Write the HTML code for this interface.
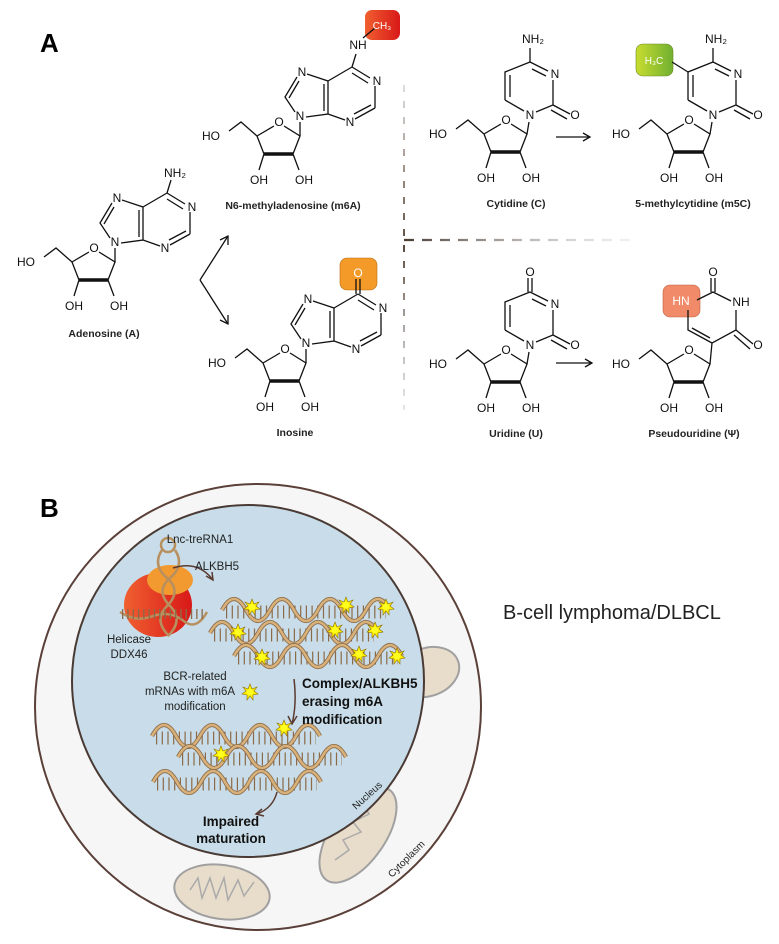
<!DOCTYPE html>
<html><head><meta charset="utf-8"><style>
html,body{margin:0;padding:0;background:#fff}
svg{display:block}
text{font-family:"Liberation Sans",sans-serif}
.a{font-size:12px;fill:#111;text-anchor:middle}
.lb{font-size:10.5px;font-weight:bold;fill:#222;text-anchor:middle}
.b{stroke:#111;stroke-width:1.3;fill:none}
.bt{stroke:#111;stroke-width:3.5;fill:none}
.t{font-size:11.5px;fill:#222;text-anchor:middle}
.tb{font-size:13.5px;font-weight:bold;fill:#111}
</style></head><body>
<svg width="779" height="944" viewBox="0 0 779 944" xmlns="http://www.w3.org/2000/svg">
<defs>
<g id="sug">
<path class="b" d="M-22,14 L-5,4 M5,4 L21,14 L14,32 M-15,32 L-22,14 L-38,0 L-50,9 M-15,32 L-20,48 M14,32 L20,48"/>
<path class="bt" d="M-15,32 L14,32"/>
</g>
<g id="pur">
<path class="b" d="M21,14 L21,0 M16,-10 L6,-25 L18,-45 M10,-24 L20,-41 M28,-48 L49,-41 L49,-8 L27,-5 M45,-38 L45,-11 M49,-8 L66,-2 M76,-3 L96,-14 M75,-8 L92,-17 M96,-14 L96,-36 M91,-44 L73,-55 M89,-39 L73,-49 M73,-55 L49,-41"/>
</g>
<g id="pyr">
<path class="b" d="M30,-8 L47,-15 L47,-40 M42,-49 L24,-58 M40,-44 L26,-51 M24,-58 L-1,-48 L-1,-20 M4,-45 L4,-23 M-1,-20 L18,-9 M47,-15 L64,-6 M45,-10 L61,-1"/>
</g>
<path id="wav" d="M0,0 q12,-22 24,0 t24,0 t24,0 t24,0 t24,0 t24,0 t24,0"/>
<g id="strand">
<line x1="4" y1="2" x2="164" y2="2" stroke="#8a6a48" stroke-width="13" stroke-dasharray="1.2,4.5"/>
<use href="#wav" fill="none" stroke="#8a6a48" stroke-width="4.2"/>
<use href="#wav" fill="none" stroke="#d8b07a" stroke-width="2.6"/>
</g>
<g id="star"><polygon points="0,-8 2,-3 7,-5 4,-1 8,2 3,3 3,8 0,4 -3,8 -3,3 -8,2 -4,-1 -7,-5 -2,-3" fill="#ffee00" stroke="#8a7000" stroke-width="0.6"/><circle r="3.3" fill="#ffff20"/></g>
<linearGradient id="gr" x1="0" x2="1"><stop offset="0" stop-color="#f06030"/><stop offset="1" stop-color="#d81818"/></linearGradient>
<linearGradient id="gg" x1="0" x2="1"><stop offset="0" stop-color="#c8dc30"/><stop offset="1" stop-color="#70b030"/></linearGradient>
<linearGradient id="gv" gradientUnits="userSpaceOnUse" x1="0" y1="85" x2="0" y2="410"><stop offset="0" stop-color="#6a5a50" stop-opacity="0.2"/><stop offset="0.5" stop-color="#5a4a40"/><stop offset="1" stop-color="#aaa" stop-opacity="0.3"/></linearGradient>
<linearGradient id="gh" gradientUnits="userSpaceOnUse" x1="404" y1="0" x2="632" y2="0"><stop offset="0" stop-color="#4a3a30"/><stop offset="1" stop-color="#bbb" stop-opacity="0.2"/></linearGradient>
</defs>

<text x="40" y="52" style="font-size:26px;font-weight:bold">A</text>

<g transform="translate(94,248)">
<use href="#sug"/><use href="#pur"/>
<path class="b" d="M73,-55 L77,-68"/>
<text class="a" x="0" y="4">O</text><text class="a" x="-68" y="18">HO</text>
<text class="a" x="-20" y="62">OH</text><text class="a" x="25" y="62">OH</text>
<text class="a" x="21" y="-2">N</text><text class="a" x="23" y="-46">N</text>
<text class="a" x="71" y="4">N</text><text class="a" x="98" y="-37">N</text>
<text class="a" x="81" y="-71">NH₂</text>
<text class="lb" x="10" y="89">Adenosine (A)</text>
</g>
<g transform="translate(279,122)">
<use href="#sug"/><use href="#pur"/><path class="b" d="M73,-55 L77,-68"/>
<rect x="86" y="-112" width="35" height="30" rx="7" fill="url(#gr)"/>
<path class="b" d="M84,-84 L96,-94"/>
<text class="a" x="103" y="-93" style="fill:#fff;font-size:10px">CH₃</text>
<text class="a" x="0" y="4">O</text><text class="a" x="-68" y="18">HO</text>
<text class="a" x="-20" y="62">OH</text><text class="a" x="25" y="62">OH</text>
<text class="a" x="21" y="-2">N</text><text class="a" x="23" y="-46">N</text>
<text class="a" x="71" y="4">N</text><text class="a" x="98" y="-37">N</text>
<text class="a" x="79" y="-73">NH</text>
<text class="lb" x="14" y="87">N6-methyladenosine (m6A)</text>
</g>
<g transform="translate(285,349)">
<use href="#sug"/><use href="#pur"/>
<rect x="55" y="-91" width="37" height="32" rx="7" fill="#f39a28" stroke="#b86a10" stroke-width="0.6"/>
<path class="b" d="M71,-55 L71,-70 M75,-55 L75,-70"/>
<text class="a" x="73" y="-72" style="fill:#fff">O</text>
<text class="a" x="0" y="4">O</text><text class="a" x="-68" y="18">HO</text>
<text class="a" x="-20" y="62">OH</text><text class="a" x="25" y="62">OH</text>
<text class="a" x="21" y="-2">N</text><text class="a" x="23" y="-46">N</text>
<text class="a" x="71" y="4">N</text><text class="a" x="98" y="-37">N</text>
<text class="lb" x="10" y="87">Inosine</text>
</g>
<path class="b" d="M200,280 L228,236 M200,280 L228,324"/>
<path class="b" d="M220,240 L228,236 L228,245 M220,320 L228,324 L228,315"/>

<line x1="404" y1="85" x2="404" y2="410" stroke="url(#gv)" stroke-width="2" stroke-dasharray="7,9"/>
<line x1="404" y1="240" x2="632" y2="240" stroke="url(#gh)" stroke-width="2.2" stroke-dasharray="10,8"/>

<g transform="translate(506,120)">
<use href="#sug"/><use href="#pyr"/><path class="b" d="M21,14 L23,2 M24,-58 L24,-72"/>
<text class="a" x="0" y="4">O</text><text class="a" x="-68" y="18">HO</text>
<text class="a" x="-20" y="62">OH</text><text class="a" x="25" y="62">OH</text>
<text class="a" x="24" y="-1">N</text><text class="a" x="49" y="-42">N</text>
<text class="a" x="69" y="-1">O</text><text class="a" x="27" y="-77">NH₂</text>
<text class="lb" x="10" y="87">Cytidine (C)</text>
</g>
<g transform="translate(689,120)">
<use href="#sug"/><use href="#pyr"/><path class="b" d="M21,14 L23,2 M24,-58 L24,-72"/>
<rect x="-53" y="-76" width="37" height="32" rx="7" fill="url(#gg)" stroke="#6a8a20" stroke-width="0.6"/>
<path class="b" d="M-1,-48 L-17,-58"/>
<text class="a" x="-35" y="-56" style="fill:#fff;font-size:10px">H₃C</text>
<text class="a" x="0" y="4">O</text><text class="a" x="-68" y="18">HO</text>
<text class="a" x="-20" y="62">OH</text><text class="a" x="25" y="62">OH</text>
<text class="a" x="24" y="-1">N</text><text class="a" x="49" y="-42">N</text>
<text class="a" x="69" y="-1">O</text><text class="a" x="27" y="-77">NH₂</text>
<text class="lb" x="4" y="87">5-methylcytidine (m5C)</text>
</g>
<g transform="translate(506,350)">
<use href="#sug"/><use href="#pyr"/><path class="b" d="M21,14 L23,2 M22,-58 L22,-72 M26,-58 L26,-72"/>
<text class="a" x="0" y="4">O</text><text class="a" x="-68" y="18">HO</text>
<text class="a" x="-20" y="62">OH</text><text class="a" x="25" y="62">OH</text>
<text class="a" x="24" y="-1">N</text><text class="a" x="49" y="-42">N</text>
<text class="a" x="69" y="-1">O</text><text class="a" x="24" y="-74">O</text>
<text class="lb" x="10" y="87">Uridine (U)</text>
</g>
<g transform="translate(689,350)">
<use href="#sug"/>
<rect x="-26" y="-65" width="37" height="32" rx="7" fill="#f08a68" stroke="#c06040" stroke-width="0.6"/>
<path class="b" d="M21,14 L23,-7 L47,-20 L47,-40 M42,-49 L24,-58 L8,-50 M-1,-40 L-1,-20 L23,-7 M3,-22 L21,-12 M47,-20 L64,-6 M45,-15 L61,-1 M22,-58 L22,-72 M26,-58 L26,-72"/>
<text class="a" x="-8" y="-45" style="fill:#fff">HN</text>
<text class="a" x="0" y="4">O</text><text class="a" x="-68" y="18">HO</text>
<text class="a" x="-20" y="62">OH</text><text class="a" x="25" y="62">OH</text>
<text class="a" x="52" y="-44">NH</text>
<text class="a" x="69" y="-1">O</text><text class="a" x="24" y="-74">O</text>
<text class="lb" x="5" y="87">Pseudouridine (Ψ)</text>
</g>
<path class="b" d="M556,137 L590,137 M583,133 L590,137 L583,141 M556,363 L592,363 M585,359 L592,363 L585,367"/>

<text x="40" y="517" style="font-size:26px;font-weight:bold">B</text>
<circle cx="258" cy="707" r="223" fill="#f6f6f6" stroke="#5a4038" stroke-width="2"/>
<g fill="#e8dccb" stroke="#a0a0a0" stroke-width="2">
<ellipse cx="428" cy="672" rx="32" ry="24" transform="rotate(-20 428 672)"/>
<ellipse cx="358" cy="835" rx="27" ry="55" transform="rotate(35 358 835)"/>
<ellipse cx="222" cy="892" rx="48" ry="27" transform="rotate(8 222 892)"/>
</g>
<g fill="none" stroke="#aaa" stroke-width="1.5">
<path d="M190,890 l8,-12 l4,20 l8,-20 l6,20 l8,-20 l4,22 l10,-20 l6,16 l10,-14"/>
<path d="M335,860 l14,-10 l-6,-10 l18,-8 l-8,-10 l16,-8 l-6,-10 l14,-6"/>
</g>
<circle cx="248" cy="681" r="176" fill="#c8dde9" stroke="#4a3a34" stroke-width="2"/>

<ellipse cx="158" cy="605" rx="34" ry="32" fill="url(#gr)"/>
<ellipse cx="170" cy="580" rx="23" ry="15" fill="#f29a30"/>
<g fill="none" stroke="#b89060" stroke-width="2.5">
<path d="M162,550 q-10,15 5,28 q15,13 0,28 q-14,14 2,30"/>
<path d="M175,550 q10,15 -5,28 q-15,13 0,28 q14,14 -2,30"/>
<path d="M120,612 q15,10 30,5 q20,-8 35,5 q12,8 22,-10"/>
<circle cx="168" cy="545" r="7"/>
</g>
<line x1="122" y1="614" x2="205" y2="614" stroke="#8a6a48" stroke-width="10" stroke-dasharray="1.3,4" />

<path d="M173,568 q25,-8 40,12" fill="none" stroke="#5a3a30" stroke-width="1.5"/>
<path d="M206,576 L213,580 L212,572" fill="none" stroke="#5a3a30" stroke-width="1.5"/>
<path d="M294,679 q3,25 -2,45" fill="none" stroke="#5a3a30" stroke-width="1.5"/>
<path d="M288,716 L292,724 L297,716" fill="none" stroke="#5a3a30" stroke-width="1.5"/>
<path d="M277,792 q-4,16 -20,22" fill="none" stroke="#5a3a30" stroke-width="1.5"/>
<path d="M262,809 L256,814 L264,816" fill="none" stroke="#5a3a30" stroke-width="1.5"/>

<use href="#strand" x="222" y="610"/>
<use href="#strand" x="210" y="633"/>
<use href="#strand" x="234" y="656"/>
<use href="#strand" x="152" y="736"/>
<use href="#strand" x="178" y="757"/>
<use href="#strand" x="153" y="782"/>
<use href="#star" x="252" y="607"/><use href="#star" x="346" y="605"/><use href="#star" x="386" y="607"/>
<use href="#star" x="238" y="632"/><use href="#star" x="335" y="630"/><use href="#star" x="375" y="630"/>
<use href="#star" x="262" y="657"/><use href="#star" x="359" y="654"/><use href="#star" x="397" y="656"/>
<use href="#star" x="284" y="728"/><use href="#star" x="221" y="754"/>
<use href="#star" x="250" y="692"/>

<text class="t" x="200" y="543">Lnc-treRNA1</text>
<text class="t" x="217" y="570">ALKBH5</text>
<text class="t" x="129" y="643">Helicase</text>
<text class="t" x="129" y="658">DDX46</text>
<text class="t" x="195" y="680">BCR-related</text>
<text class="t" x="190" y="695">mRNAs with m6A</text>
<text class="t" x="195" y="710">modification</text>
<text class="tb" x="302" y="688">Complex/ALKBH5</text>
<text class="tb" x="302" y="706">erasing m6A</text>
<text class="tb" x="302" y="724">modification</text>
<text class="tb" x="231" y="826" text-anchor="middle">Impaired</text>
<text class="tb" x="231" y="843" text-anchor="middle">maturation</text>
<text x="0" y="0" transform="translate(356,810) rotate(-42)" style="font-size:10px;fill:#222">Nucleus</text>
<text x="0" y="0" transform="translate(392,878) rotate(-45)" style="font-size:10px;fill:#222">Cytoplasm</text>
<text x="503" y="619" style="font-size:20px;fill:#222">B-cell lymphoma/DLBCL</text>
</svg>
</body></html>
